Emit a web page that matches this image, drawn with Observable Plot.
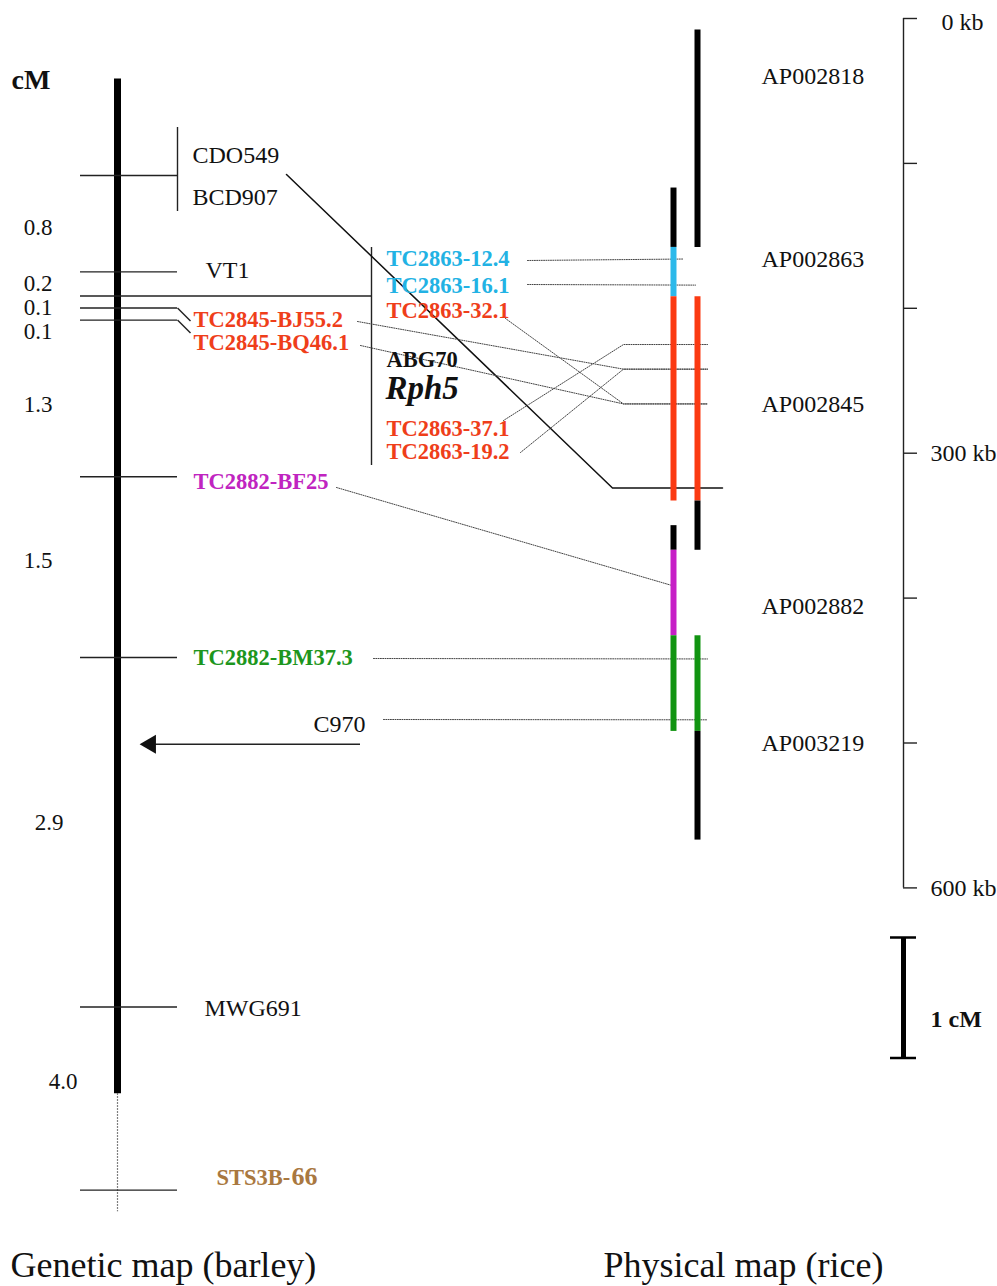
<!DOCTYPE html>
<html><head><meta charset="utf-8">
<script src="https://cdn.jsdelivr.net/npm/d3@7"></script>
<script src="https://cdn.jsdelivr.net/npm/@observablehq/plot@0.6"></script>
<style>body{margin:0;background:#fff} svg{display:block}</style>
</head><body><div id="chart"></div>
<script>
// ---------------- DATA ----------------
// Genetic map (barley): loci and the cM intervals between them
const lociNames   = ["CDO549/BCD907", "VT1", "TC2863 bin", "TC2845-BJ55.2", "TC2845-BQ46.1", "TC2882-BF25", "TC2882-BM37.3", "MWG691", "STS3B-66"];
const intervalsCM = [0.8, 0.2, 0.1, 0.1, 1.3, 1.5, 2.9, 4.0];
const intervalLabels = ["0.8", "0.2", "0.1", "0.1", "1.3", "1.5", "2.9", "4.0"];
const mapTopCM = -0.8;      // top end of the drawn barley map
const solidEndCM = 7.62;    // end of the solid (to-scale) part
const c970CM = 4.72;        // C970 position (arrow)

// Marker names placed at the TC2863 bin
const binMarkers = ["TC2863-12.4", "TC2863-16.1", "TC2863-32.1", "ABG70", "Rph5", "TC2863-37.1", "TC2863-19.2"];

// Physical map (rice): contig segments, kb
const contigLane  = ["L","L","L","L","L","L", "R","R","R","R","R"];
const contigStart = [117, 158, 192, 350, 367, 426,   8, 192, 333, 426, 492];
const contigEnd   = [158, 192, 333, 367, 426, 492, 158, 333, 367, 492, 567];
const contigClass = ["other","12","45","other","82","19", "other","45","other","19","other"];
const contigNames = ["AP002818", "AP002863", "AP002845", "AP002882", "AP003219"];
const contigLabelKb = [40, 166, 266, 406, 500];
const kbTicks = [0, 100, 200, 300, 400, 500, 600];
const kbLabels = [0, 300, 600];

// Correspondences: barley marker -> rice position (kb)
const linkMarker = ["TC2863-12.4","TC2863-16.1","TC2863-32.1","TC2845-BJ55.2","TC2845-BQ46.1","TC2863-37.1","TC2863-19.2","TC2882-BF25","TC2882-BM37.3","C970"];
const linkKb     = [166, 184, 266, 242, 266, 225, 242, 391, 442, 484];
const cdoLinkKb  = 324;   // CDO549/BCD907 -> rice

// ---------------- LAYOUT ----------------
const W = 997, H = 1286;
const KB0_PX = 18, PX_PER_KB = 1.449;
const CM0_PX = 175, PX_PER_CM = 120.5;
const pxToKb = px => (px - KB0_PX) / PX_PER_KB;
const cmToKb = cm => pxToKb(CM0_PX + cm * PX_PER_CM);
const SERIF = "'Liberation Serif','Times New Roman',Times,serif";

const lociCM = intervalsCM.reduce((a, d) => (a.push(a[a.length - 1] + d), a), [0]);
// last interval (to STS3B-66) drawn shortened, not to scale
const drawnCM = lociCM.map((d, i) => i === lociCM.length - 1 ? 8.42 : d);

const colors = {other: "#000", "12": "#2cb9ea", "45": "#fb3a12", "82": "#c61fc6", "19": "#119411"};
const textColors = {cyan: "#22b2e4", red: "#ef3e1a", magenta: "#c024c0", green: "#1d961d", brown: "#a97840", black: "#111"};

// label layout (x px, center y px)
const labelX = {"CDO549": 192, "BCD907": 192, "VT1": 205, "TC2845-BJ55.2": 193, "TC2845-BQ46.1": 193, "TC2882-BF25": 193, "TC2882-BM37.3": 193, "MWG691": 204};
const labelY = {"CDO549": 155, "BCD907": 197, "VT1": 270, "TC2845-BJ55.2": 319, "TC2845-BQ46.1": 342, "TC2882-BF25": 481, "TC2882-BM37.3": 657, "MWG691": 1008};
const labelColor = {"CDO549": "black", "BCD907": "black", "VT1": "black", "TC2845-BJ55.2": "red", "TC2845-BQ46.1": "red", "TC2882-BF25": "magenta", "TC2882-BM37.3": "green", "MWG691": "black"};
const binY = [258, 285, 310, 359, 388, 428, 451];
const binColor = ["cyan","cyan","red","black","black","red","red"];
const intervalLabelY = [227, 283, 307, 331, 404, 560, 822, 1081];
const intervalLabelX = [52, 52, 52, 52, 52, 52, 63, 77];
// link start points (px); links without a fixed end bend at x=623
const linkStart = {"TC2863-12.4": [527, 260], "TC2863-16.1": [527, 284], "TC2863-32.1": [505, 318], "TC2845-BJ55.2": [357, 321], "TC2845-BQ46.1": [360, 345], "TC2863-37.1": [503, 420], "TC2863-19.2": [520, 452], "TC2882-BF25": [336, 487], "TC2882-BM37.3": [373, 658], "C970": [383, 719]};
const linkEndX = {"TC2863-12.4": 683, "TC2863-16.1": 695, "TC2882-BF25": 670};
const BEND_X = 623;

// ---------------- BUILD ----------------
const ticks = lociNames.map((name, i) => ({name, cm: drawnCM[i]}));
const intervals = intervalLabels.map((t, i) => ({t, x: intervalLabelX[i], y: pxToKb(intervalLabelY[i])}));

const geneLabels = Object.keys(labelX).map(k => ({t: k, x: labelX[k], y: pxToKb(labelY[k]), c: textColors[labelColor[k]]}));
const bin = binMarkers.map((t, i) => ({t, y: pxToKb(binY[i]), c: textColors[binColor[i]]}));

const contigs = contigStart.map((s, i) => ({lane: contigLane[i] === "L" ? 673 : 697, y1: s, y2: contigEnd[i], c: colors[contigClass[i]]}));

const links = [];
linkMarker.forEach((m, i) => {
  const [sx, sy] = linkStart[m];
  const pts = [{x: sx, y: pxToKb(sy)}];
  if (!(m in linkEndX) && Math.abs(sy - (KB0_PX + linkKb[i] * PX_PER_KB)) > 3) pts.push({x: BEND_X, y: linkKb[i]});
  pts.push({x: linkEndX[m] ?? 707, y: linkKb[i]});
  pts.forEach(p => links.push({...p, id: m}));
});
const cdoLine = [{x: 286, y: pxToKb(174)}, {x: 612, y: cdoLinkKb}, {x: 722, y: cdoLinkKb}];

const chart = Plot.plot({
  width: W, height: H,
  margin: 0,
  x: {domain: [0, W], range: [0, W], axis: null},
  y: {domain: [pxToKb(0), pxToKb(H)], range: [0, H], axis: null},
  style: {fontFamily: SERIF, background: "#fff"},
  marks: [
    // barley chromosome
    Plot.ruleX([117], {y1: cmToKb(mapTopCM), y2: cmToKb(solidEndCM), stroke: "#000", strokeWidth: 7}),
    Plot.ruleX([117], {y1: cmToKb(solidEndCM), y2: cmToKb(8.6), stroke: "#555", strokeWidth: 1.2, strokeDasharray: "1.5,1.5"}),
    // marker ticks
    Plot.ruleY(ticks, {y: d => cmToKb(d.cm), x1: 80, x2: 177, stroke: "#222", strokeWidth: 1.4}),
    Plot.ruleY([cmToKb(lociCM[2])], {x1: 177, x2: 371, stroke: "#222", strokeWidth: 1.4}),
    // brackets
    Plot.ruleX([177], {y1: pxToKb(127), y2: pxToKb(211), stroke: "#222", strokeWidth: 1.4}),
    Plot.ruleX([371], {y1: pxToKb(247), y2: pxToKb(465), stroke: "#222", strokeWidth: 1.4}),
    // elbows to TC2845 labels
    Plot.link([3, 4], {x1: 177, y1: i => cmToKb(lociCM[i]), x2: 190, y2: i => cmToKb(lociCM[i]) + 13 / PX_PER_KB, stroke: "#222", strokeWidth: 1.4}),
    // CDO549/BCD907 -> rice solid line
    Plot.line(cdoLine, {x: "x", y: "y", stroke: "#111", strokeWidth: 1.5}),
    // dotted correspondence lines
    Plot.line(links, {x: "x", y: "y", z: "id", stroke: "#444", strokeWidth: 1, strokeDasharray: "1,1.3"}),
    // rice contigs
    Plot.ruleX(contigs, {x: "lane", y1: "y1", y2: "y2", stroke: "c", strokeWidth: 6}),
    // kb axis
    Plot.ruleX([903], {y1: 0, y2: 600, stroke: "#222", strokeWidth: 1.4}),
    Plot.ruleY(kbTicks, {x1: 903, x2: 917, stroke: "#222", strokeWidth: 1.4}),
    Plot.text(kbLabels, {x: d => d === 0 ? 941 : 930, y: d => d + (d === 0 ? 4 : 0) / PX_PER_KB, text: d => `${d} kb`, textAnchor: "start", fontSize: 24, fill: "#111"}),
    // 1 cM scale bar
    Plot.ruleX([903], {y1: pxToKb(937), y2: pxToKb(937) + PX_PER_CM / PX_PER_KB, stroke: "#000", strokeWidth: 5}),
    Plot.ruleY([pxToKb(937), pxToKb(937) + PX_PER_CM / PX_PER_KB], {x1: 890, x2: 916, stroke: "#000", strokeWidth: 2.5}),
    Plot.text(["1 cM"], {x: 930, y: pxToKb(1019), textAnchor: "start", fontSize: 24, fontWeight: "bold", fill: "#111"}),
    // C970 arrow
    Plot.ruleY([cmToKb(c970CM)], {x1: 150, x2: 360, stroke: "#222", strokeWidth: 1.6}),
    Plot.dot([cmToKb(c970CM)], {x: 150, y: d => d, symbol: "triangle", rotate: -90, r: 7, fill: "#111", stroke: "none"}),
    Plot.text(["C970"], {x: 365, y: pxToKb(724), textAnchor: "end", fontSize: 24, fill: "#111"}),
    // texts
    Plot.text(["cM"], {x: 11, y: pxToKb(80), textAnchor: "start", fontSize: 28, fontWeight: "bold", fill: "#111"}),
    Plot.text(intervals, {x: "x", y: "y", text: "t", textAnchor: "end", fontSize: 23, fill: "#111"}),
    Plot.text(geneLabels.filter(d => d.c === textColors.black), {x: "x", y: "y", text: "t", fill: "c", textAnchor: "start", fontSize: 24}),
    Plot.text(geneLabels.filter(d => d.c !== textColors.black), {x: "x", y: "y", text: "t", fill: "c", textAnchor: "start", fontSize: 22.5, fontWeight: "bold"}),
    Plot.text(bin.filter(d => d.t !== "Rph5"), {x: 386, y: "y", text: "t", fill: "c", textAnchor: "start", fontSize: 22.5, fontWeight: "bold"}),
    Plot.text(bin.filter(d => d.t === "Rph5"), {x: 385, y: "y", text: "t", fill: "#111", textAnchor: "start", fontSize: 33, fontWeight: "bold", fontStyle: "italic"}),
    Plot.text(["STS3B-"], {x: 216, y: pxToKb(1177), textAnchor: "start", fontSize: 22.5, fontWeight: "bold", fill: textColors.brown}),
    Plot.text(["66"], {x: 291, y: pxToKb(1176), textAnchor: "start", fontSize: 26, fontWeight: "bold", fill: textColors.brown}),
    Plot.text(contigNames, {x: 761, y: (d, i) => contigLabelKb[i], textAnchor: "start", fontSize: 24, fill: "#111"}),
    // captions
    Plot.text(["Genetic map (barley)"], {x: 10, y: pxToKb(1276), textAnchor: "start", lineAnchor: "bottom", fontSize: 36, fill: "#111"}),
    Plot.text(["Physical map (rice)"], {x: 603, y: pxToKb(1276), textAnchor: "start", lineAnchor: "bottom", fontSize: 36, fill: "#111"})
  ]
});
document.getElementById("chart").appendChild(chart);
</script>
</body></html>
